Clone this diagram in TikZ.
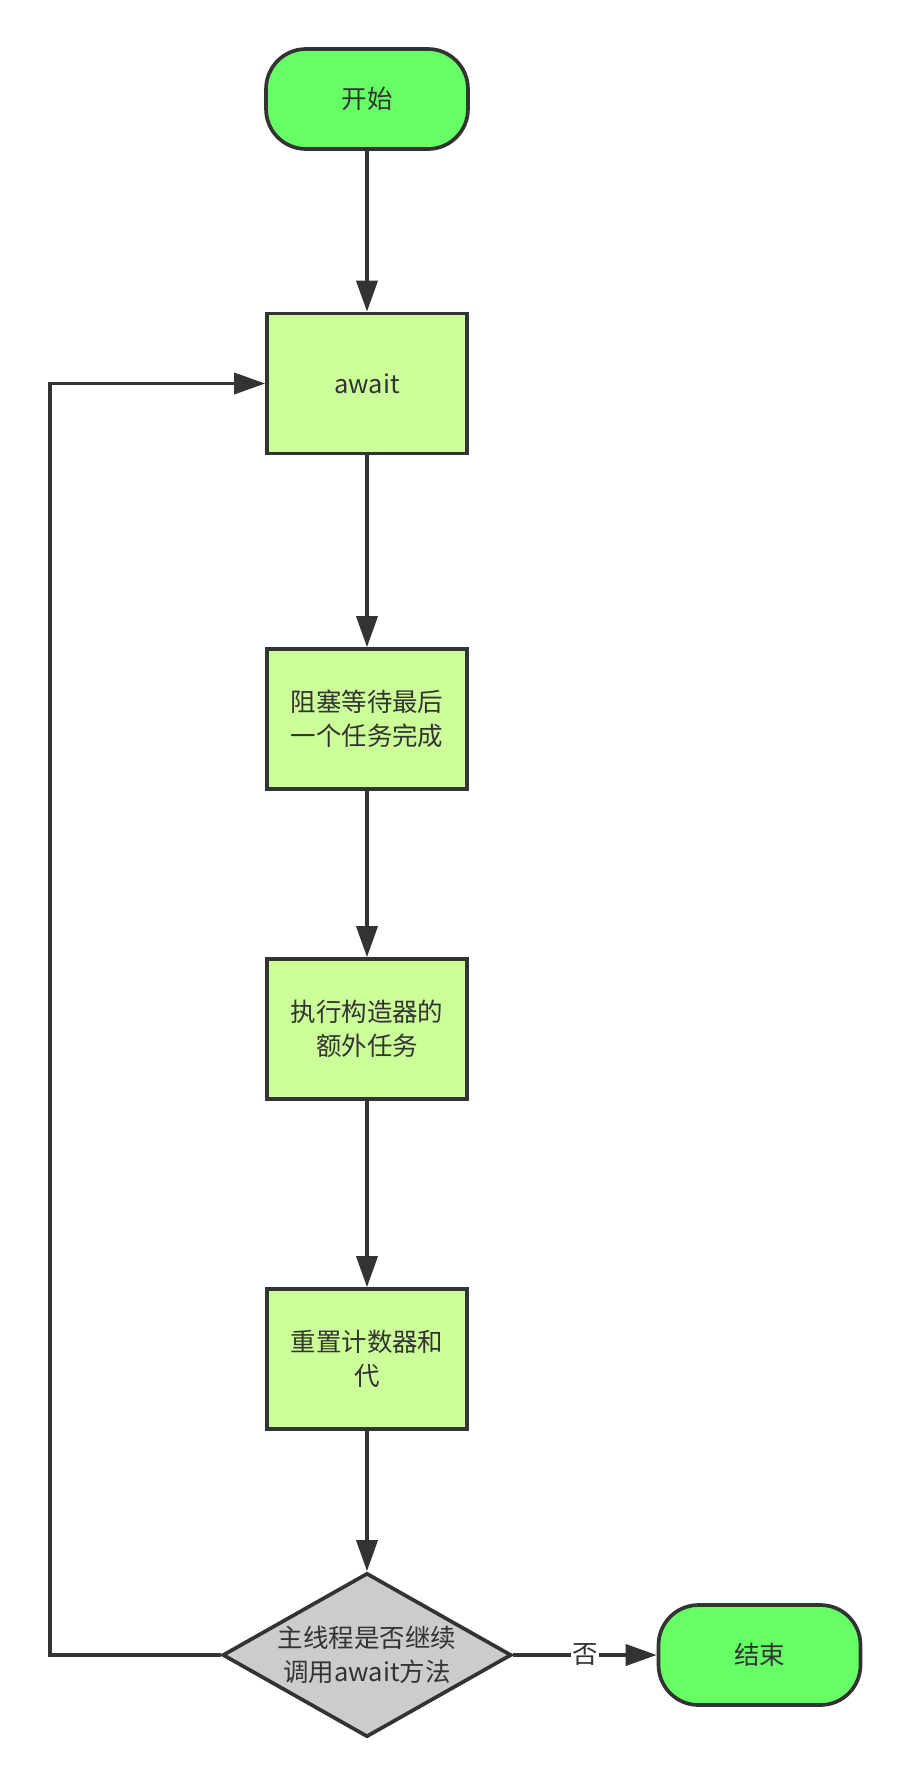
\documentclass[tikz,border=0pt]{standalone}
\usepackage{fontspec}
\setmainfont{Noto Sans CJK SC}
\usetikzlibrary{arrows.meta,shapes.geometric}
\definecolor{edgegray}{HTML}{333333}
\definecolor{termgreen}{HTML}{66FF66}
\definecolor{boxgreen}{HTML}{CCFF99}
\definecolor{decgray}{HTML}{CCCCCC}
\tikzset{
  term/.style={draw=edgegray, fill=termgreen, line width=2.1pt, rounded corners=0.8cm,
    minimum width=4.04cm, minimum height=2cm, text=edgegray, font=\fontsize{14.5}{19.3}\selectfont},
  stepbox/.style={draw=edgegray, fill=boxgreen, line width=2.1pt,
    minimum width=4cm, minimum height=2.8cm, align=center, text=edgegray,
    font=\fontsize{14.5}{19.3}\selectfont},
  decision/.style={diamond, draw=edgegray, fill=decgray, line width=2.1pt, inner sep=0pt,
    shape aspect=1.76, minimum width=5.78cm, minimum height=3.28cm, align=center,
    text=edgegray, font=\fontsize{14.5}{19.3}\selectfont},
  flow/.style={draw=edgegray, line width=2.1pt, -{Triangle[length=0.62cm,width=0.42cm]}}
}
\begin{document}
\begin{tikzpicture}[x=0.02cm, y=-0.02cm]
  \useasboundingbox (0,0) rectangle (909,1786);
  \node[term] (start) at (367, 99) {开始};
  \node[stepbox] (wait) at (367, 383.5) {await};
  \node[stepbox] (block) at (367, 719) {阻塞等待最后\\一个任务完成};
  \node[stepbox] (extra) at (367, 1029) {执行构造器的\\额外任务};
  \node[stepbox] (reset) at (367, 1359) {重置计数器和\\代};
  \node[decision] (again) at (367, 1655) {主线程是否继续\\调用await方法};
  \node[term] (stop) at (759.5, 1655) {结束};
  \coordinate (lb) at (50, 1655);
  \coordinate (lt) at (50, 383.5);
  \draw[flow] (start) -- (wait);
  \draw[flow] (wait) -- (block);
  \draw[flow] (block) -- (extra);
  \draw[flow] (extra) -- (reset);
  \draw[flow] (reset) -- (again);
  \draw[flow] (again) -- node[fill=white, inner sep=1pt, text=edgegray,
    font=\fontsize{14.5}{19.3}\selectfont] {否} (stop);
  \draw[flow] (again.west) -- (lb) -- (lt) -- (wait.west);
\end{tikzpicture}
\end{document}
